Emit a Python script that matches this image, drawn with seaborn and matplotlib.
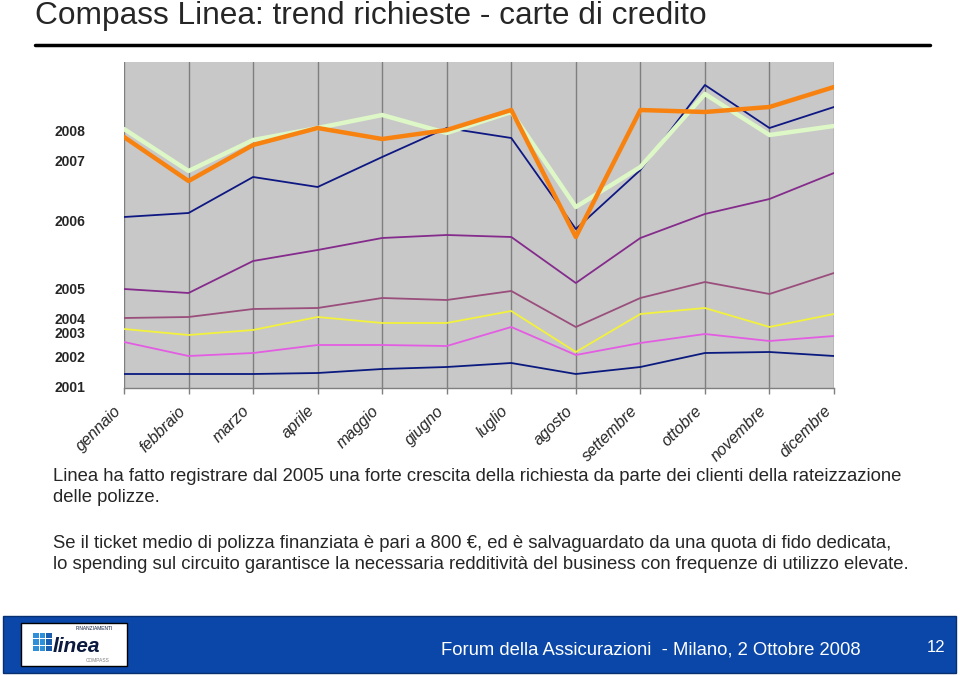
import pandas as pd
import matplotlib
matplotlib.use("Agg")
import matplotlib.pyplot as plt
import matplotlib.transforms as mtransforms
from matplotlib.patches import Rectangle
import seaborn as sns

# months on the x axis
months = ['gennaio', 'febbraio', 'marzo', 'aprile', 'maggio', 'giugno',
          'luglio', 'agosto', 'settembre', 'ottobre', 'novembre', 'dicembre']

# request index per year (no scale shown on the original)
r2001 = [14, 14, 14, 15, 19, 21, 25, 14, 21, 35, 36, 32]
r2002 = [46, 32, 35, 43, 43, 42, 61, 33, 45, 54, 47, 52]
r2003 = [59, 53, 58, 71, 65, 65, 77, 36, 74, 80, 61, 74]
r2004 = [70, 71, 79, 80, 90, 88, 97, 61, 90, 106, 94, 115]
r2005 = [99, 95, 127, 138, 150, 153, 151, 105, 150, 174, 189, 215]
r2006 = [171, 175, 211, 201, 231, 260, 250, 159, 218, 303, 260, 281]
r2007 = [259, 217, 248, 260, 273, 255, 276, 181, 221, 294, 253, 262]
r2008 = [251, 207, 243, 260, 249, 258, 278, 151, 278, 276, 281, 301]

years = ['2001', '2002', '2003', '2004', '2005', '2006', '2007', '2008']
series = [r2001, r2002, r2003, r2004, r2005, r2006, r2007, r2008]
colors = ['#0B1A7E', '#E35DE3', '#F2F23C', '#9A4E7C', '#842B8C', '#0E1782', '#DDF7C6', '#F7820F']
widths = [1.3, 1.3, 1.3, 1.3, 1.3, 1.3, 3.2, 3.2]

# labels on the y axis sit at these heights
year_label_pos = [2, 32, 55, 70, 100, 168, 228, 258]

title = "Compass Linea: trend richieste - carte di credito"
body1 = ("Linea ha fatto registrare dal 2005 una forte crescita della richiesta da parte dei clienti della rateizzazione\n"
         "delle polizze.")
body2 = ("Se il ticket medio di polizza finanziata è pari a 800 €, ed è salvaguardato da una quota di fido dedicata,\n"
         "lo spending sul circuito garantisce la necessaria redditività del business con frequenze di utilizzo elevate.")
footer = "Forum della Assicurazioni  - Milano, 2 Ottobre 2008"
page = "12"

sns.set_style("white")
plt.rcParams['font.family'] = ['Liberation Sans', 'DejaVu Sans']

W, H = 960, 675
fig = plt.figure(figsize=(9.6, 6.75), dpi=100)
ax = fig.add_axes([124 / W, 1 - 388 / H, 710 / W, 326 / H])
ax.set_facecolor('#C8C8C8')

x = list(range(len(months)))
for year, vals, col, lw in zip(years, series, colors, widths):
    df = pd.DataFrame({'mese': x, 'valore': vals})
    sns.lineplot(data=df, x='mese', y='valore', color=col, linewidth=lw, ax=ax)

ax.set_xlim(0, 11)
ax.set_ylim(0, 326)
for xi in x:
    ax.axvline(xi, color='#7F7F7F', linewidth=1, zorder=0.5)

ax.set_xticks(x)
ax.set_xticklabels(months, rotation=45, ha='right', va='top', rotation_mode='anchor',
                   fontsize=11.5, style='italic')
ax.tick_params(axis='x', length=4, color='#7F7F7F', width=1, pad=7, direction='out', bottom=True)
shift = mtransforms.ScaledTranslation(-11 / 100, 0, fig.dpi_scale_trans)
for lab in ax.get_xticklabels():
    lab.set_transform(lab.get_transform() + shift)
ax.set_yticks(year_label_pos)
ax.set_yticklabels(years, fontsize=10, fontweight='bold')
ax.tick_params(axis='y', length=0, pad=28)
ax.set_xlabel('')
ax.set_ylabel('')
for s in ['top', 'left', 'right']:
    ax.spines[s].set_visible(False)
ax.spines['bottom'].set_color('#7F7F7F')
ax.spines['bottom'].set_linewidth(1)

# slide title and rule
fig.text(35 / W, 1 - 16 / H, title, fontsize=22.8, va='center', ha='left')
fig.add_artist(plt.Line2D([35 / W, 930 / W], [1 - 45 / H, 1 - 45 / H], color='black', linewidth=2.5))

# comment text
fig.text(53 / W, 1 - 487 / H, body1, fontsize=13.35, va='center', ha='left', linespacing=1.38)
fig.text(53 / W, 1 - 554 / H, body2, fontsize=13.35, va='center', ha='left', linespacing=1.38)

# footer bar
fig.add_artist(Rectangle((3 / W, 1 - 673 / H), 953 / W, 57 / H, transform=fig.transFigure,
                         facecolor='#0A47A8', edgecolor='#06306F', linewidth=1))
fig.add_artist(Rectangle((21 / W, 1 - 666 / H), 106 / W, 43 / H, transform=fig.transFigure,
                         facecolor='white', edgecolor='black', linewidth=1))
for i in range(3):
    for j in range(3):
        fig.add_artist(Rectangle(((33 + j * 6.5) / W, 1 - (638 + i * 6.5) / H), 5.5 / W, 5.5 / H,
                                 transform=fig.transFigure,
                                 facecolor='#2F8FD8' if j < 2 else '#1A5FB0', edgecolor='none'))
fig.text(53 / W, 1 - 646 / H, 'linea', fontsize=15, fontweight='bold', style='italic',
         color='#0B1A3E', va='center', ha='left')
fig.text(113 / W, 1 - 629 / H, 'FINANZIAMENTI', fontsize=3.5, color='#0B1A3E', va='center', ha='right')
fig.text(110 / W, 1 - 661 / H, 'COMPASS', fontsize=3.5, color='#808080', va='center', ha='right')
fig.text(441 / W, 1 - 650 / H, footer, fontsize=13.3, color='white', va='center', ha='left')
fig.text(945 / W, 1 - 648 / H, page, fontsize=12, color='white', va='center', ha='right')

fig.savefig('out.png', dpi=100)
